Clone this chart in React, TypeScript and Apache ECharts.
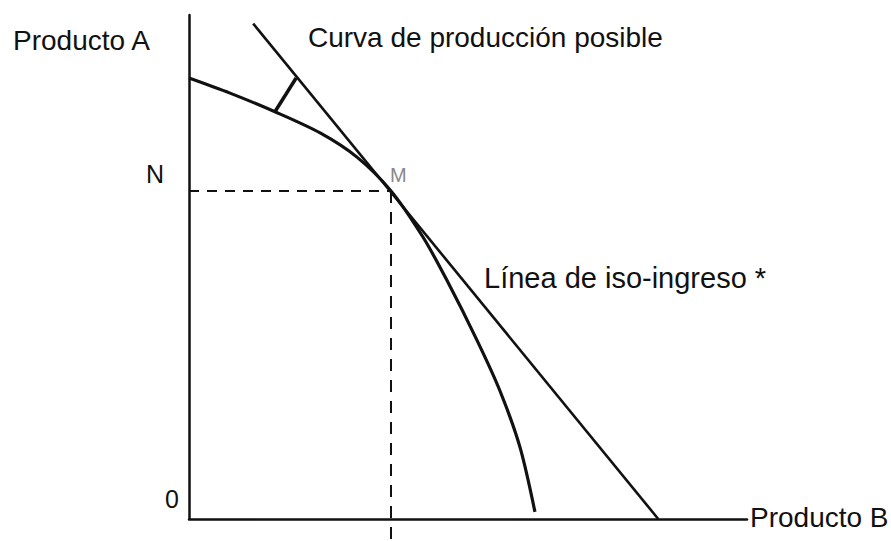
import React, { useEffect, useRef } from "react";
import * as echarts from "echarts";

// Production possibility curve (Producto B on x, Producto A on y), 0-100 units
const curveX = [0, 7.35, 15.4, 23.5, 30.1, 36.2, 41.9, 46.2, 51.6, 55.7, 59.3, 62.0];
const curveY = [87.5, 84.5, 80.8, 76.6, 71.8, 65.1, 56.0, 47.4, 35.5, 25.5, 14.3, 1.4];

// Iso-revenue line end points
const isoX = [11.5, 84.1];
const isoY = [98.3, 0];

// Small bracket segment between curve and iso line
const bracketX = [15.4, 19.2];
const bracketY = [80.8, 87.5];

// Tangency point M
const pointM = [36.2, 65.1];
const belowAxis = -4;

const labels = {
  yAxis: "Producto A",
  xAxis: "Producto B",
  curve: "Curva de producción posible",
  iso: "Línea de iso-ingreso *",
  n: "N",
  m: "M",
  origin: "0",
};

const zip = (xs: number[], ys: number[]) => xs.map((x, i) => [x, ys[i]]);

export default function App() {
  const ref = useRef<HTMLDivElement>(null);
  useEffect(() => {
    if (!ref.current) return;
    const chart = echarts.init(ref.current, null, { renderer: "svg" });
    const font = '"Liberation Sans", Arial, sans-serif';
    const ink = "#111";
    const txt = (text: string, x: number, y: number, size: number, fill = ink) => ({
      type: "text",
      x,
      y,
      silent: true,
      style: { text, fill, font: `${size}px ${font}`, verticalAlign: "middle", align: "left" },
    });
    chart.setOption({
      animation: false,
      backgroundColor: "#ffffff",
      grid: { left: 189, top: 15, width: 558, height: 504, outerBoundsMode: "none", containLabel: false },
      xAxis: {
        type: "value",
        min: 0,
        max: 100,
        axisLine: { show: true, lineStyle: { color: ink, width: 2.5 } },
        axisTick: { show: false },
        axisLabel: { show: false },
        splitLine: { show: false },
      },
      yAxis: {
        type: "value",
        min: 0,
        max: 100,
        axisLine: { show: true, lineStyle: { color: ink, width: 2.5 } },
        axisTick: { show: false },
        axisLabel: { show: false },
        splitLine: { show: false },
      },
      series: [
        {
          type: "line",
          data: zip(curveX, curveY),
          smooth: 0.3,
          symbol: "none",
          lineStyle: { color: ink, width: 3.2 },
        },
        {
          type: "line",
          data: zip(isoX, isoY),
          symbol: "none",
          lineStyle: { color: ink, width: 2.6 },
        },
        {
          type: "line",
          data: zip(bracketX, bracketY),
          symbol: "none",
          lineStyle: { color: ink, width: 3.5 },
        },
        {
          type: "line",
          data: [[0, pointM[1]], [pointM[0], pointM[1]]],
          symbol: "none",
          lineStyle: { color: ink, width: 2, type: [10, 8] },
        },
        {
          type: "line",
          data: [[pointM[0], pointM[1]], [pointM[0], belowAxis]],
          symbol: "none",
          clip: false,
          lineStyle: { color: ink, width: 2, type: [12, 9] },
        },
      ],
      graphic: [
        txt(labels.yAxis, 13, 40, 28),
        txt(labels.curve, 308, 37, 28),
        txt(labels.iso, 484, 278, 29),
        txt(labels.xAxis, 750, 517, 28),
        txt(labels.n, 146, 174, 25),
        txt(labels.m, 390, 175, 20, "#888"),
        txt(labels.origin, 165, 499, 25),
      ],
    });
    return () => chart.dispose();
  }, []);
  return (
    <div
      ref={ref}
      style={{ position: "fixed", left: 0, top: 0, width: 891, height: 541, background: "#fff" }}
    />
  );
}
